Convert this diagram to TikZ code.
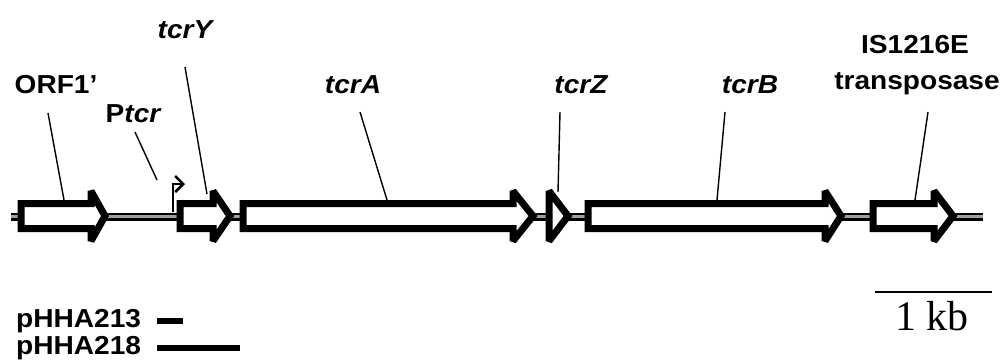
\documentclass[tikz,border=0pt]{standalone}
\usepackage{fontspec}
\setmainfont{Liberation Sans}[FakeStretch=1.08]
\newfontfamily\kbserif{Liberation Serif}
\usetikzlibrary{arrows.meta}
\newcommand\genearrow[3]{% x0, head base, tip
  \draw[genebox] (#1,203.5) -- (#2,203.5) -- (#2,191) -- (#3,216) -- (#2,241) -- (#2,228.5) -- (#1,228.5) -- cycle;}
\begin{document}
\begin{tikzpicture}[x=1pt,y=-1pt,
  lbl/.style={font=\fontsize{26}{28}\selectfont\bfseries, anchor=base, inner sep=0pt},
  ilbl/.style={lbl, font=\fontsize{26}{28}\selectfont\bfseries\itshape},
  genebox/.style={draw=black, fill=white, line width=7pt, line join=miter, miter limit=3},
  leader/.style={draw=black, line width=1.4pt},
  bbout/.style={draw=black, line width=8pt},
  bbin/.style={draw=gray!75, line width=3pt},
  clonebar/.style={draw=black, line width=6pt}]
\useasboundingbox (0,0) rectangle (1003,360);
% backbone
\coordinate (bbL) at (11,216.5);
\coordinate (bbR) at (983,216.5);
\draw[bbout] (bbL) -- (bbR);
\draw[bbin] (bbL) -- (bbR);
% genes
\genearrow{21}{91}{105}
\genearrow{180}{213}{230}
\genearrow{243}{513}{533}
\draw[genebox] (549,191) -- (568,216) -- (549,241) -- cycle;
\genearrow{588}{825}{841}
\genearrow{873}{934}{953}
% promoter
\coordinate (pbase) at (173,212);
\coordinate (pcorner) at (173,184);
\coordinate (ptip) at (185,184);
\draw[line width=2.5pt, -{Straight Barb[length=8pt, width=16pt]}] (pbase) -- (pcorner) -- (ptip);
% labels
\node[lbl] (orf) at (56,93) {ORF1'};
\node[lbl, anchor=base] (ptcr) at (133,122) {P{\itshape tcr}};
\node[ilbl] (tcrY) at (185,38) {tcrY};
\node[ilbl] (tcrA) at (353,93) {tcrA};
\node[ilbl] (tcrZ) at (581,93) {tcrZ};
\node[ilbl] (tcrB) at (750,93) {tcrB};
\node[lbl] (is) at (915,53) {IS1216E};
\node[lbl] (tp) at (917,89) {transposase};
% leader lines
\coordinate (orfA) at (48,113);   \coordinate (orfB) at (64,200);
\coordinate (ptA) at (135,132);   \coordinate (ptB) at (157,180);
\coordinate (yA) at (185,67);     \coordinate (yB) at (207,194);
\coordinate (aA) at (360,112);    \coordinate (aB) at (387,200);
\coordinate (zA) at (560,112);    \coordinate (zB) at (558,192);
\coordinate (bA) at (725,112);    \coordinate (bB) at (717,200);
\coordinate (iA) at (928,112);    \coordinate (iB) at (915,200);
\draw[leader] (orfA) -- (orfB);
\draw[leader] (ptA) -- (ptB);
\draw[leader] (yA) -- (yB);
\draw[leader] (aA) -- (aB);
\draw[leader] (zA) -- (zB);
\draw[leader] (bA) -- (bB);
\draw[leader] (iA) -- (iB);
% clones
\node[lbl, anchor=base west] (p213) at (16,327) {pHHA213};
\node[lbl, anchor=base west] (p218) at (16,354) {pHHA218};
\coordinate (c1a) at (157,320.5); \coordinate (c1b) at (183,320.5);
\coordinate (c2a) at (157,347.5); \coordinate (c2b) at (240,347.5);
\draw[clonebar] (c1a) -- (c1b);
\draw[clonebar] (c2a) -- (c2b);
% scale bar
\coordinate (sL) at (875,292); \coordinate (sR) at (992,292);
\draw[line width=2pt] (sL) -- (sR);
\node[anchor=base, inner sep=0pt, font=\kbserif\fontsize{42}{44}\selectfont] (kb) at (932,330) {1 kb};
\end{tikzpicture}
\end{document}
